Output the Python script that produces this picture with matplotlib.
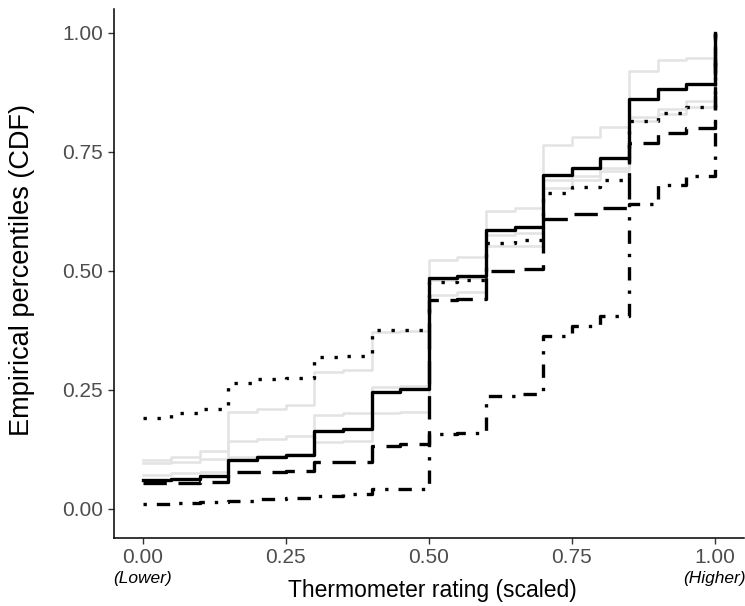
import matplotlib
matplotlib.use('Agg')
import matplotlib.pyplot as plt

# thermometer ratings (scaled) where the ECDFs are evaluated
ratings = [0.00, 0.05, 0.10, 0.15, 0.20, 0.25, 0.30, 0.35, 0.40, 0.45, 0.50,
           0.55, 0.60, 0.65, 0.70, 0.75, 0.80, 0.85, 0.90, 0.95, 1.00]

# black groups
cdf_solid = [0.061, 0.063, 0.068, 0.103, 0.109, 0.113, 0.164, 0.168, 0.246, 0.251, 0.485,
             0.489, 0.586, 0.592, 0.702, 0.716, 0.737, 0.861, 0.882, 0.893, 1.0]
cdf_dotted = [0.190, 0.200, 0.210, 0.265, 0.273, 0.275, 0.318, 0.320, 0.375, 0.376, 0.476,
              0.480, 0.559, 0.565, 0.663, 0.676, 0.691, 0.814, 0.832, 0.845, 1.0]
cdf_dashed = [0.053, 0.054, 0.057, 0.077, 0.078, 0.079, 0.098, 0.099, 0.132, 0.135, 0.4375,
              0.440, 0.500, 0.504, 0.609, 0.620, 0.632, 0.768, 0.789, 0.800, 1.0]
cdf_dotdash = [0.010, 0.011, 0.013, 0.017, 0.020, 0.022, 0.027, 0.030, 0.041, 0.042, 0.157,
               0.159, 0.236, 0.240, 0.363, 0.383, 0.404, 0.641, 0.680, 0.700, 1.0]

# light grey groups
cdf_grey1 = [0.103, 0.108, 0.122, 0.204, 0.210, 0.218, 0.288, 0.292, 0.372, 0.374, 0.523,
             0.529, 0.625, 0.632, 0.765, 0.782, 0.803, 0.920, 0.943, 0.947, 1.0]
cdf_grey2 = [0.096, 0.099, 0.104, 0.143, 0.147, 0.153, 0.197, 0.201, 0.201, 0.203, 0.450,
             0.455, 0.551, 0.553, 0.673, 0.690, 0.709, 0.814, 0.830, 0.845, 1.0]
cdf_grey3 = [0.071, 0.074, 0.078, 0.108, 0.111, 0.115, 0.141, 0.143, 0.256, 0.258, 0.480,
             0.485, 0.576, 0.580, 0.691, 0.700, 0.716, 0.824, 0.841, 0.856, 1.0]

y_ticks = [0.00, 0.25, 0.50, 0.75, 1.00]
x_ticks = [0.00, 0.25, 0.50, 0.75, 1.00]

plt.rcParams['font.family'] = ['Liberation Sans', 'DejaVu Sans']

fig = plt.figure(figsize=(7.45, 6.06), dpi=100)
ax = fig.add_axes([0.153, 0.112, 0.845, 0.873])

lw = 2.4
for ys in [cdf_grey1, cdf_grey2, cdf_grey3]:
    ax.step(ratings, ys, where='post', color='#e3e3e3', lw=1.8, zorder=1)

ax.step(ratings, cdf_dotdash, where='post', color='black', lw=lw,
        linestyle=(0, (1, 3, 4, 3)), zorder=2)
ax.step(ratings, cdf_dashed, where='post', color='black', lw=lw,
        linestyle=(0, (7, 3.5)), zorder=2)
ax.step(ratings, cdf_dotted, where='post', color='black', lw=lw,
        linestyle=(0, (1, 3.2)), zorder=2)
ax.step(ratings, cdf_solid, where='post', color='black', lw=lw, zorder=3)

ax.set_xlim(-0.05, 1.05)
ax.set_ylim(-0.062, 1.05)
ax.set_xticks(x_ticks)
ax.set_xticklabels([f'{t:.2f}' for t in x_ticks])
ax.set_yticks(y_ticks)
ax.set_yticklabels([f'{t:.2f}' for t in y_ticks])

for side in ['top', 'right']:
    ax.spines[side].set_visible(False)
for side in ['left', 'bottom']:
    ax.spines[side].set_linewidth(1.1)
ax.tick_params(axis='both', length=4, width=1.0, color='#333333',
               labelsize=15, labelcolor='#4d4d4d', pad=4)
ax.tick_params(axis='x', pad=3)

# axis titles placed in figure space
fig.text(0.58, 0.026, 'Thermometer rating (scaled)', ha='center', va='center', fontsize=16.5)
fig.text(0.03, 0.554, 'Empirical percentiles (CDF)', ha='center', va='center',
         rotation=90, fontsize=19.5)

# anchors under the ends of the x axis
fig.text(143 / 745, 1 - 578 / 606, '(Lower)', ha='center', va='center',
         fontsize=12.5, style='italic')
fig.text(714 / 745, 1 - 578 / 606, '(Higher)', ha='center', va='center',
         fontsize=12.5, style='italic')

fig.savefig('out.png', dpi=100)
